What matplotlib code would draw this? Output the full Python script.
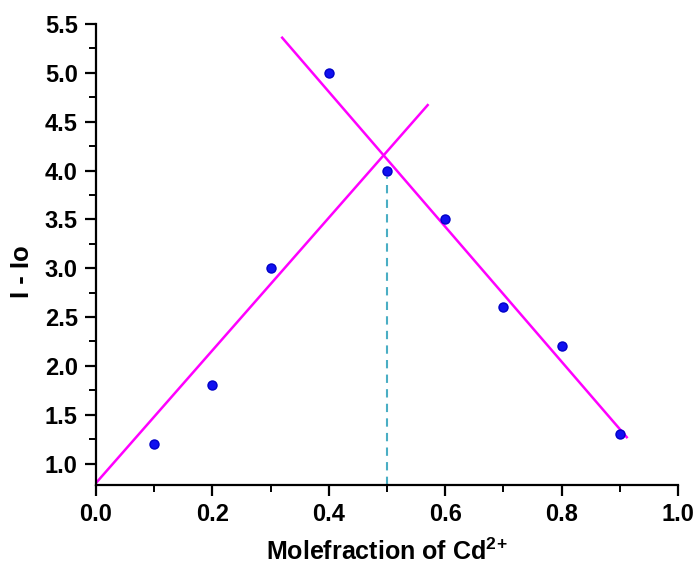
import matplotlib
matplotlib.use("Agg")
import matplotlib.pyplot as plt
from matplotlib.ticker import MultipleLocator

# Job's plot data
mole_fraction = [0.1, 0.2, 0.3, 0.4, 0.5, 0.6, 0.7, 0.8, 0.9]
intensity = [1.2, 1.8, 3.0, 5.0, 4.0, 3.5, 2.6, 2.2, 1.3]

# hand-drawn trend lines (end points)
rise_x = [0.0, 0.57]
rise_y = [0.80, 4.67]
fall_x = [0.32, 0.912]
fall_y = [5.36, 1.27]

# stoichiometry marker
stoich_x = [0.5, 0.5]
stoich_y = [0.78, 3.93]

plt.rcParams["font.family"] = ["Liberation Sans", "DejaVu Sans"]
plt.rcParams["font.weight"] = "bold"
plt.rcParams["mathtext.fontset"] = "custom"
plt.rcParams["mathtext.bf"] = "Liberation Sans:bold"
plt.rcParams["mathtext.rm"] = "Liberation Sans:bold"

fig = plt.figure(figsize=(6.95, 5.72), dpi=100)
ax = fig.add_axes([0.138, 0.152, 0.8375, 0.806])

ax.plot(rise_x, rise_y, color="#ff00ff", lw=1.8, zorder=2)
ax.plot(fall_x, fall_y, color="#ff00ff", lw=1.8, zorder=2)
ax.plot(stoich_x, stoich_y, color="#4aaec4", lw=1.5, ls=(0, (4, 3)), zorder=1)
ax.plot(mole_fraction, intensity, "o", color="#1010f0", ms=6.5, mec="#0000c8", zorder=3)

ax.set_xlim(0.0, 1.0)
ax.set_ylim(0.78, 5.5)
ax.xaxis.set_major_locator(MultipleLocator(0.2))
ax.xaxis.set_minor_locator(MultipleLocator(0.1))
ax.yaxis.set_minor_locator(MultipleLocator(0.25))
ax.set_yticks([1.0, 1.5, 2.0, 2.5, 3.0, 3.5, 4.0, 4.5, 5.0, 5.5])

for s in ("top", "right"):
    ax.spines[s].set_visible(False)
for s in ("left", "bottom"):
    ax.spines[s].set_linewidth(1.6)

ax.tick_params(which="major", direction="out", length=8, width=1.6, labelsize=17, pad=5)
ax.tick_params(which="minor", direction="out", length=5, width=1.4)
for lab in ax.get_xticklabels() + ax.get_yticklabels():
    lab.set_fontweight("bold")

ax.set_xlabel(r"Molefraction of Cd$^{\mathbf{2\!+}}$", fontsize=18, fontweight="bold", labelpad=9)
ax.set_ylabel("I - Io", fontsize=18.5, fontweight="bold")
ax.yaxis.set_label_coords(-0.106, 0.462)

fig.savefig("out.png", dpi=100)
